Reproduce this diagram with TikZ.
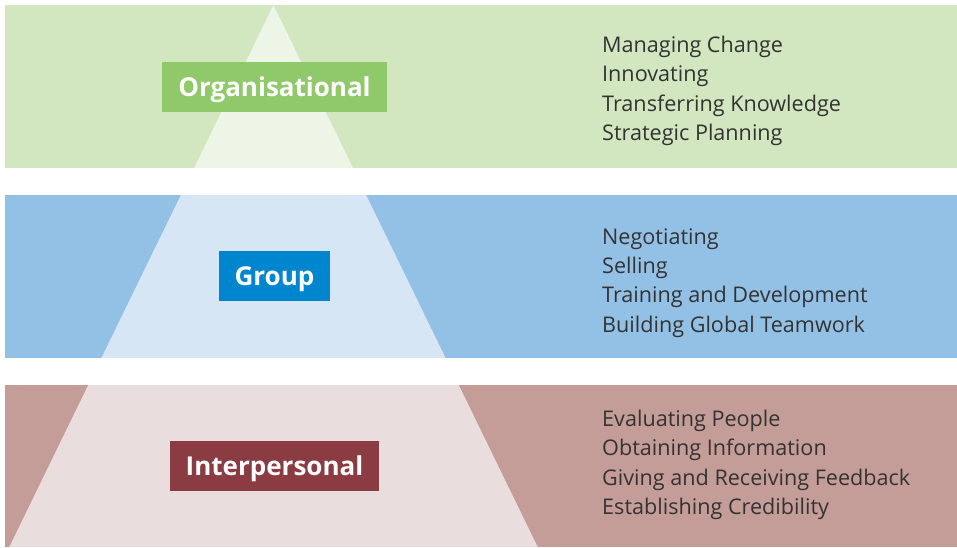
\documentclass[tikz,border=0pt]{standalone}
\usepackage{fontspec}
\setmainfont{Open Sans}
\usepackage{tikz}
\usetikzlibrary{positioning}

\definecolor{orgband}{RGB}{210,231,192}
\definecolor{orgtri}{RGB}{237,245,231}
\definecolor{orglabel}{RGB}{143,201,106}
\definecolor{grpband}{RGB}{147,193,230}
\definecolor{grptri}{RGB}{214,230,245}
\definecolor{grplabel}{RGB}{0,133,207}
\definecolor{intband}{RGB}{197,157,152}
\definecolor{inttri}{RGB}{233,221,221}
\definecolor{intlabel}{RGB}{139,59,66}
\definecolor{listtext}{RGB}{51,51,51}

\begin{document}
\begin{tikzpicture}[x=1pt,y=-1pt]

\tikzstyle{level} = [rectangle, minimum height=50pt, inner xsep=16pt, inner ysep=0pt, text height=18.6pt, text depth=0pt, text=white, font=\fontsize{26}{30}\selectfont\bfseries]
\tikzstyle{skills} = [anchor=west, align=left, inner sep=0pt, text=listtext, font=\fontsize{21.6}{29.3}\selectfont]

\useasboundingbox (0,0) rectangle (957,547);

% bands with the pyramid cut into them
\begin{scope}
\clip (5,5) rectangle (957,167.7);
\fill[orgband] (5,5) rectangle (957,167.7);
\fill[orgtri] (273.5,5) -- (537.7,547) -- (9.3,547) -- cycle;
\end{scope}
\begin{scope}
\clip (5,195) rectangle (957,357.7);
\fill[grpband] (5,195) rectangle (957,357.7);
\fill[grptri] (273.5,5) -- (537.7,547) -- (9.3,547) -- cycle;
\end{scope}
\begin{scope}
\clip (5,385) rectangle (957,547);
\fill[intband] (5,385) rectangle (957,547);
\fill[inttri] (273.5,5) -- (537.7,547) -- (9.3,547) -- cycle;
\end{scope}

\node (O) [level, fill=orglabel] at (274.5,87) {Organisational};
\node (G) [level, fill=grplabel] at (274.5,276) {Group};
\node (I) [level, fill=intlabel] at (274.5,466) {Interpersonal};

\node (OS) [skills] at (602,91) {Managing Change\\Innovating\\Transferring Knowledge\\Strategic Planning};
\node (GS) [skills] at (602,283) {Negotiating\\Selling\\Training and Development\\Building Global Teamwork};
\node (IS) [skills] at (602,465) {Evaluating People\\Obtaining Information\\Giving and Receiving Feedback\\Establishing Credibility};

\end{tikzpicture}
\end{document}
